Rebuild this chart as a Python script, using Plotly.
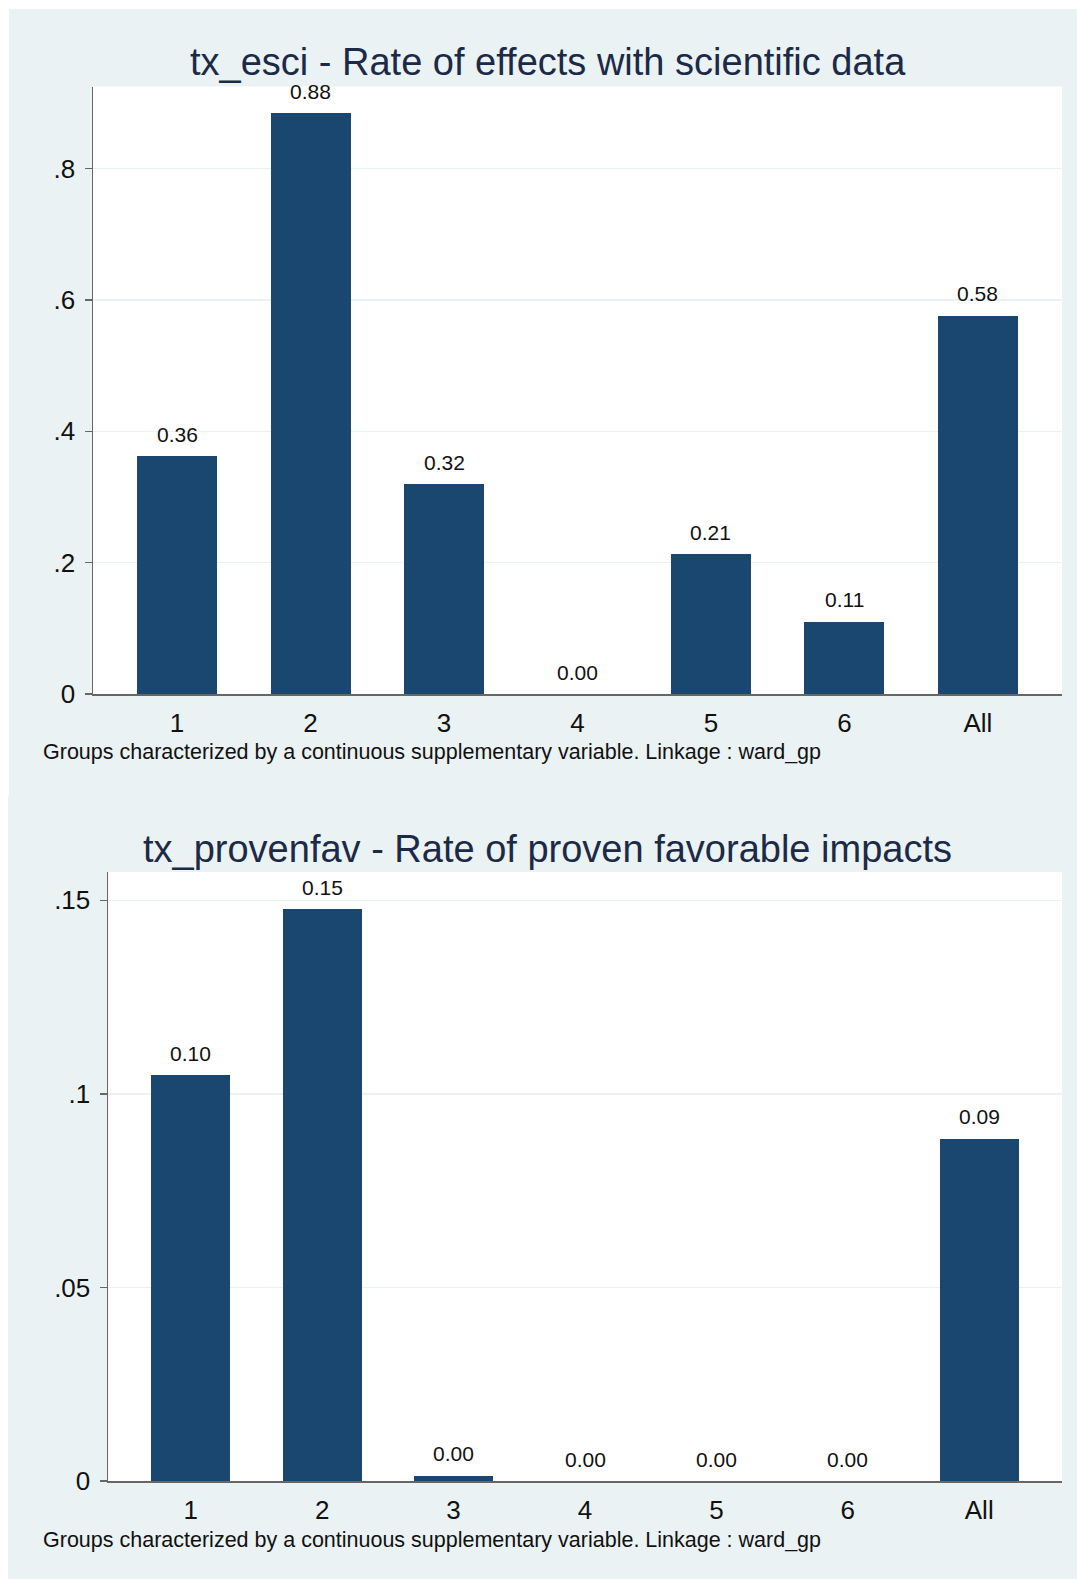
import plotly.graph_objects as go

categories = ["1", "2", "3", "4", "5", "6", "All"]
esci_values = [0.362, 0.884, 0.319, 0.0, 0.213, 0.110, 0.576]
esci_labels = ["0.36", "0.88", "0.32", "0.00", "0.21", "0.11", "0.58"]
provenfav_values = [0.1048, 0.1477, 0.0013, 0.0, 0.0, 0.0, 0.0884]
provenfav_labels = ["0.10", "0.15", "0.00", "0.00", "0.00", "0.00", "0.09"]
esci_ticks = [0, 0.2, 0.4, 0.6, 0.8]
esci_ticktext = ["0", ".2", ".4", ".6", ".8"]
prov_ticks = [0, 0.05, 0.1, 0.15]
prov_ticktext = ["0", ".05", ".1", ".15"]
titles = ["tx_esci - Rate of effects with scientific data",
          "tx_provenfav - Rate of proven favorable impacts"]
note = "Groups characterized by a continuous supplementary variable. Linkage : ward_gp"

W, H = 1077, 1579
BG = "#eaf2f3"
BAR = "#1a476f"
FONT = "Liberation Sans, Arial, sans-serif"

fig = go.Figure()
idx = list(range(len(categories)))

fig.add_trace(go.Bar(x=idx, y=esci_values, marker=dict(color=BAR, line=dict(width=0)),
                     width=0.6, xaxis="x", yaxis="y", showlegend=False, hoverinfo="skip"))
fig.add_trace(go.Bar(x=idx, y=provenfav_values, marker=dict(color=BAR, line=dict(width=0)),
                     width=0.6, xaxis="x2", yaxis="y2", showlegend=False, hoverinfo="skip"))

def py(p):
    return 1 - p / H

def px(p):
    return p / W

common_x = dict(range=[-0.63, 6.63], tickmode="array", tickvals=idx, ticktext=categories,
                showgrid=False, zeroline=False, showline=True, linecolor="#666666", linewidth=1.5,
                ticks="outside", ticklen=0, ticklabelstandoff=5,
                tickfont=dict(family=FONT, size=26, color="#111111"), fixedrange=True)
common_y = dict(showgrid=True, gridcolor=BG, gridwidth=1.5, zeroline=False, showline=True,
                linecolor="#666666", linewidth=1.5, ticks="outside", ticklen=7, tickwidth=1.5,
                tickcolor="#666666", ticklabelstandoff=4,
                tickfont=dict(family=FONT, size=26, color="#111111"), fixedrange=True)

fig.update_layout(
    autosize=False,
    width=W, height=H,
    margin=dict(l=0, r=0, t=0, b=0, pad=0, autoexpand=False),
    paper_bgcolor=BG,
    plot_bgcolor="white",
    bargap=0,
    xaxis=dict(domain=[px(93), px(1062)], anchor="y", **common_x),
    yaxis=dict(domain=[py(694), py(86.5)], anchor="x", range=[0, 0.925],
               tickmode="array", tickvals=esci_ticks, ticktext=esci_ticktext, **common_y),
    xaxis2=dict(domain=[px(108), px(1062)], anchor="y2", **common_x),
    yaxis2=dict(domain=[py(1481), py(872)], anchor="x2", range=[0, 0.1573],
                tickmode="array", tickvals=prov_ticks, ticktext=prov_ticktext, **common_y),
)

# white page strips (top and left) around the grey panels
shapes = [
    dict(type="rect", xref="paper", yref="paper", x0=0, x1=1, y0=py(9), y1=1,
         fillcolor="white", line=dict(width=0), layer="below"),
    dict(type="rect", xref="paper", yref="paper", x0=0, x1=px(9), y0=py(796), y1=1,
         fillcolor="white", line=dict(width=0), layer="below"),
    dict(type="rect", xref="paper", yref="paper", x0=0, x1=px(8), y0=0, y1=py(796),
         fillcolor="white", line=dict(width=0), layer="below"),
]
fig.update_layout(shapes=shapes)

annotations = []
for i, (v, t) in enumerate(zip(esci_values, esci_labels)):
    annotations.append(dict(x=i, y=v, xref="x", yref="y", text=t, showarrow=False,
                            yanchor="middle", yshift=22,
                            font=dict(family=FONT, size=21, color="#111111")))
for i, (v, t) in enumerate(zip(provenfav_values, provenfav_labels)):
    annotations.append(dict(x=i, y=v, xref="x2", yref="y2", text=t, showarrow=False,
                            yanchor="middle", yshift=22,
                            font=dict(family=FONT, size=21, color="#111111")))
for ty, title in zip([61.5, 849], titles):
    annotations.append(dict(x=px(547.5), y=py(ty), xref="paper", yref="paper", text=title,
                            showarrow=False, xanchor="center", yanchor="middle",
                            font=dict(family=FONT, size=38, color="#1c2a48")))
for ny in [752, 1540]:
    annotations.append(dict(x=px(41), y=py(ny), xref="paper", yref="paper", text=note,
                            showarrow=False, xanchor="left", yanchor="middle",
                            font=dict(family=FONT, size=21.5, color="#111111")))
fig.update_layout(annotations=annotations)

fig.write_html(
    "out.html",
    config={"displayModeBar": False, "staticPlot": True},
    post_script=("document.body.style.margin='0';"
                 "document.body.style.overflow='hidden';"
                 "document.body.style.background='" + BG + "';"
                 "document.documentElement.style.background='" + BG + "';"),
)
